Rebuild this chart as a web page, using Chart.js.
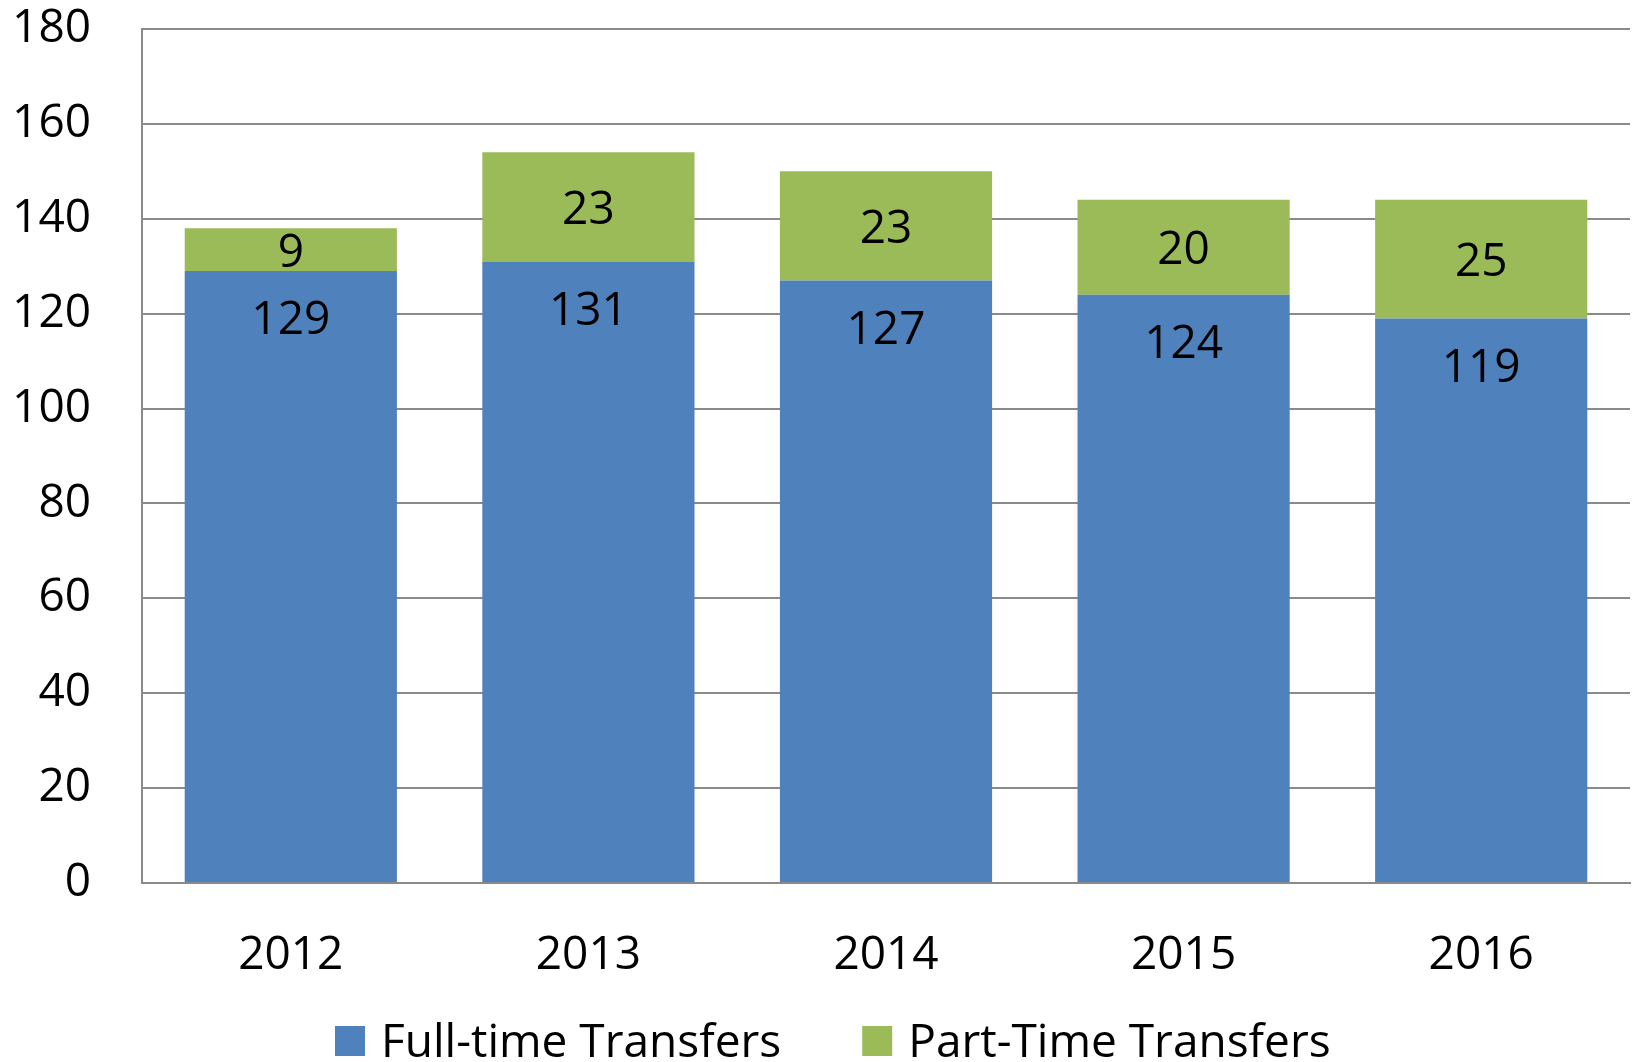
<!DOCTYPE html>
<html>
<head>
<meta charset="utf-8">
<script src="https://cdn.jsdelivr.net/npm/chart.js@4.4.1/dist/chart.umd.min.js"></script>
<style>
  html, body { margin: 0; padding: 0; background: #fff; }
  #wrap { width: 1632px; height: 1062px; }
</style>
</head>
<body>
<div id="wrap"><canvas id="chart" width="1632" height="1062"></canvas></div>
<script>
// data
const years = ['2012', '2013', '2014', '2015', '2016'];
const fullTime = [129, 131, 127, 124, 119];
const partTime = [9, 23, 23, 20, 25];
const yTicks = [0, 20, 40, 60, 80, 100, 120, 140, 160, 180];

const FONT = '"Open Sans", "Noto Sans", sans-serif';
const SIZE = 46;
const GRID = '#8a8a8a';

// labels inside the bars: blue near the top, green centred
const segmentLabels = {
  id: 'segmentLabels',
  afterDatasetsDraw(chart) {
    const ctx = chart.ctx;
    ctx.save();
    ctx.font = `${SIZE}px ${FONT}`;
    ctx.fillStyle = '#000';
    ctx.textAlign = 'center';
    ctx.textBaseline = 'middle';
    chart.data.datasets.forEach((ds, i) => {
      const meta = chart.getDatasetMeta(i);
      meta.data.forEach((bar, j) => {
        const y = i === 0 ? bar.y + 50 : (bar.y + bar.base) / 2 + 4;
        ctx.fillText(String(ds.data[j]), bar.x, y);
      });
    });
    ctx.restore();
  }
};

// legend row under the axis labels (the built-in one can't sit this close)
const bottomLegend = {
  id: 'bottomLegend',
  afterDraw(chart) {
    const ctx = chart.ctx;
    const box = 30, gap = 16, spacing = 81, cy = 1041;
    let x = 335;
    ctx.save();
    ctx.font = `${SIZE}px ${FONT}`;
    ctx.textAlign = 'left';
    ctx.textBaseline = 'middle';
    chart.data.datasets.forEach(ds => {
      ctx.fillStyle = ds.backgroundColor;
      ctx.fillRect(x, cy - box / 2, box, box);
      ctx.fillStyle = '#000';
      ctx.fillText(ds.label, x + box + gap, cy + 3);
      x += box + gap + ctx.measureText(ds.label).width + spacing;
    });
    ctx.restore();
  }
};

new Chart(document.getElementById('chart'), {
  type: 'bar',
  data: {
    labels: years,
    datasets: [
      { label: 'Full-time Transfers', data: fullTime, backgroundColor: '#4f81bd' },
      { label: 'Part-Time Transfers', data: partTime, backgroundColor: '#9bbb59' }
    ]
  },
  options: {
    responsive: false,
    animation: false,
    devicePixelRatio: 1,
    layout: { padding: { top: 29, right: 2, left: 0, bottom: 33 } },
    datasets: { bar: { categoryPercentage: 1, barPercentage: 0.713 } },
    plugins: {
      tooltip: { enabled: false },
      legend: { display: false }
    },
    scales: {
      x: {
        stacked: true,
        grid: { display: false, drawTicks: false },
        border: { display: true, color: GRID, width: 2 },
        ticks: { color: '#000', font: { family: FONT, size: SIZE, lineHeight: 1 }, padding: 50 }
      },
      y: {
        stacked: true,
        min: 0,
        max: 180,
        afterFit(scale) { scale.width = 142; },
        afterBuildTicks(scale) { scale.ticks = yTicks.map(v => ({ value: v })); },
        grid: { color: GRID, lineWidth: 2, tickLength: 51, tickColor: 'rgba(0,0,0,0)' },
        border: { display: true, color: GRID, width: 2 },
        ticks: { color: '#000', font: { family: FONT, size: SIZE }, padding: 0 }
      }
    }
  },
  plugins: [segmentLabels, bottomLegend]
});
</script>
</body>
</html>
